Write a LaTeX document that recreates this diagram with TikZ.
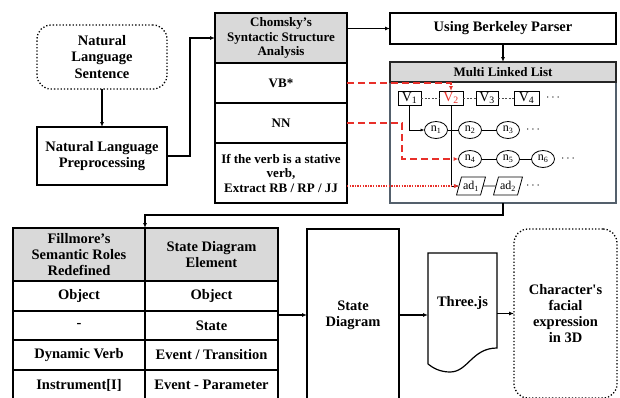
\documentclass[tikz,border=0pt]{standalone}
\usepackage{fontspec}
\setmainfont{Liberation Serif}
\usetikzlibrary{shapes.geometric,arrows.meta,calc}
\definecolor{hdrgray}{RGB}{217,217,217}
\definecolor{linkred}{RGB}{232,48,42}
\definecolor{slate}{RGB}{84,96,108}
\begin{document}
\begin{tikzpicture}[x=1pt,y=-1pt,
  every node/.style={inner sep=0pt, outer sep=0pt, align=center,
    font=\bfseries\fontsize{14.5}{16.3}\selectfont},
  box/.style={draw=black, line width=1.2pt},
  hdr/.style={box, fill=hdrgray},
  term/.style={draw=black, line width=1.3pt, dotted, rounded corners=14pt},
  small/.style={font=\bfseries\fontsize{13}{14.5}\selectfont},
  flow/.style={line width=1.2pt, -{Latex[length=5pt,width=4pt]}},
  lbox/.style={draw, line width=0.8pt, minimum height=14pt,
    font=\fontsize{14}{14}\selectfont},
  lnode/.style={ellipse, draw, line width=0.8pt, minimum width=23pt,
    minimum height=17pt, font=\fontsize{12}{12}\selectfont},
  adnode/.style={trapezium, trapezium left angle=68, trapezium right angle=112,
    trapezium stretches=true, draw, line width=0.8pt, minimum width=29pt,
    minimum height=18pt, font=\fontsize{12}{12}\selectfont},
  more/.style={font=\fontsize{13}{13}\selectfont},
  link/.style={line width=0.7pt},
  vlink/.style={line width=0.7pt, draw=black!70, dash pattern=on 2pt off 1.5pt},
  redarrow/.style={draw=linkred, line width=1.5pt,
    -{Latex[length=5pt,width=4pt,fill=linkred]}},
  reddash/.style={redarrow, dash pattern=on 7pt off 4pt},
  reddot/.style={redarrow, dash pattern=on 1.3pt off 1.3pt},
]
\useasboundingbox (0,0) rectangle (620,397);
\clip (0,0) rectangle (620,397);

% ---- input side ----
\node[term, minimum width=130pt, minimum height=64pt] (sent) at (102,57)
  {Natural\\Language\\Sentence};
\node[box, minimum width=130pt, minimum height=58pt] (prep) at (102,156)
  {Natural Language\\Preprocessing};

% ---- Chomsky table ----
\node[hdr, small, minimum width=132pt, minimum height=50pt] (ch0) at (281,38)
  {Chomsky's\\Syntactic Structure\\Analysis};
\node[box, small, minimum width=132pt, minimum height=40pt] (ch1) at (281,83) {VB*};
\node[box, small, minimum width=132pt, minimum height=40pt] (ch2) at (281,123) {NN};
\node[box, small, minimum width=132pt, minimum height=60pt] (ch3) at (281,173)
  {If the verb is a stative\\verb,\\Extract RB / RP / JJ};

% ---- parser and linked list ----
\node[box, minimum width=226pt, minimum height=31pt] (berk) at (503,28.5)
  {Using Berkeley Parser};
\node[draw=slate, line width=1.2pt, minimum width=226pt, minimum height=121pt]
  (mllB) at (503,142.5) {};
\node[draw=black!85, fill=hdrgray, line width=1.2pt, small, minimum width=226pt,
  minimum height=20pt] (mllH) at (503,72) {Multi Linked List};

\node[lbox, minimum width=23pt] (V1) at (409.5,98) {V\textsubscript{1}};
\node[lbox, minimum width=24pt, text=linkred] (V2) at (451,98) {V\textsubscript{2}};
\node[lbox, minimum width=22pt] (V3) at (487,98) {V\textsubscript{3}};
\node[lbox, minimum width=25pt] (V4) at (526.5,98) {V\textsubscript{4}};
\node[more] (vdots) at (553,98) {$\cdots$};

\node[lnode] (n1) at (436,130) {n\textsubscript{1}};
\node[lnode] (n2) at (470,130) {n\textsubscript{2}};
\node[lnode] (n3) at (508,130) {n\textsubscript{3}};
\node[more] (ndotsA) at (533,130) {$\cdots$};
\node[lnode] (n4) at (470,159) {n\textsubscript{4}};
\node[lnode] (n5) at (508,159) {n\textsubscript{5}};
\node[lnode] (n6) at (543,159) {n\textsubscript{6}};
\node[more] (ndotsB) at (568,159) {$\cdots$};
\node[adnode] (ad1) at (471,186) {ad\textsubscript{1}};
\node[adnode] (ad2) at (508,186) {ad\textsubscript{2}};
\node[more] (adots) at (533,186) {$\cdots$};

\draw[vlink] (V1) -- (V2);
\draw[vlink] (V2) -- (V3);
\draw[vlink] (V3) -- (V4);
\draw[link] (n1) -- (n2);
\draw[link] (n2) -- (n3);
\draw[link] (n4) -- (n5);
\draw[link] (n5) -- (n6);
\draw[link] (ad1) -- (ad2);
\draw[link, -{Latex[length=4pt,width=3pt]}] (V1.south) |- (n1.west);
\draw[link, -{Latex[length=4pt,width=3pt]}] (V2.south) |- (ad1.west);

% tag links into the list
\draw[reddash] (ch1.east) -| (V2.north);
\draw[reddash] (ch2.east) -- ++(55,0) |- (n4.west);
\draw[reddot] (ch3.east |- ad1.west) -- (ad1.west);

% ---- Fillmore table ----
\node[hdr, minimum width=132pt, minimum height=53pt] (f11) at (79,254.5)
  {Fillmore's\\Semantic Roles\\Redefined};
\node[hdr, minimum width=133pt, minimum height=53pt] (f12) at (211.5,254.5)
  {State Diagram\\Element};
\node[box, minimum width=132pt, minimum height=30pt] (f21) at (79,296) {Object};
\node[box, minimum width=133pt, minimum height=30pt] (f22) at (211.5,296) {Object};
\node[box, minimum width=132pt, minimum height=29pt] (f31) at (79,325.5) {-};
\node[box, minimum width=133pt, minimum height=29pt] (f32) at (211.5,325.5) {State};
\node[box, minimum width=132pt, minimum height=30pt] (f41) at (79,355) {Dynamic Verb};
\node[box, minimum width=133pt, minimum height=30pt] (f42) at (211.5,355) {Event / Transition};
\node[box, minimum width=132pt, minimum height=30pt] (f51) at (79,385) {Instrument[I]};
\node[box, minimum width=133pt, minimum height=30pt] (f52) at (211.5,385) {Event - Parameter};

% ---- output side ----
\node[box, minimum width=92pt, minimum height=172pt] (stdg) at (353,315)
  {State\\Diagram};
\node[minimum width=69pt, minimum height=114pt] (three) at (462.5,310) {};
\draw[box] (428,364) -- (428,253) -- (497,253) -- (497,348)
  .. controls (472,348) and (468,372) .. (450,372)
  .. controls (440,372) and (433,368) .. (428,364);
\node (threetxt) at (462.5,303) {Three.js};
\node[term, minimum width=103pt, minimum height=169pt] (char) at (565.5,313.5)
  {Character\textquotesingle s\\facial\\expression\\in 3D};

% ---- flow connectors ----
\draw[flow] (sent.south) -- (prep.north);
\draw[flow] (prep.east) -- ++(23,0) |- (ch0.west);
\draw[flow] (ch0.east |- berk.west) -- (berk.west);
\draw[flow] (berk.south) -- (mllH.north);
\draw[flow] (mllB.south) -- ++(0,12) -| (f11.north east);
\draw[flow] (f22.east |- stdg.west) -- (stdg.west);
\draw[flow] (stdg.east) -- (stdg.east -| three.west);
\draw[flow] (char.west -| three.east) -- (char.west);
\end{tikzpicture}
\end{document}
